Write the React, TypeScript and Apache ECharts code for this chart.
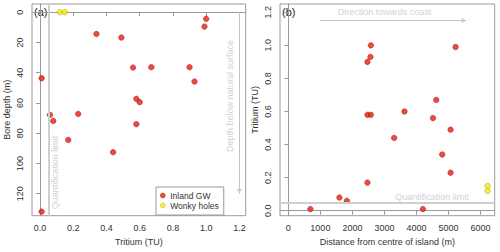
import React, { useEffect, useRef } from "react";
import * as echarts from "echarts";

// Panel (a): tritium vs bore depth
const inlandTritiumA = [1.0, 0.99, 0.34, 0.49, 0.56, 0.67, 0.9, 0.01, 0.93, 0.58, 0.6, 0.06, 0.08, 0.23, 0.58, 0.17, 0.44, 0.01];
const inlandDepthA = [4.4, 9.5, 14.4, 16.8, 36.6, 36.4, 36.4, 43.7, 45.9, 57.3, 59.5, 67.9, 71.9, 67.3, 74.1, 84.5, 92.6, 131.9];
const wonkyTritiumA = [0.12, 0.15];
const wonkyDepthA = [0, 0];

// Panel (b): distance vs tritium
const inlandDistB = [2575, 2562, 2469, 5219, 2469, 2575, 3625, 4616, 4513, 3303, 5063, 4803, 5063, 2469, 1594, 1825, 688, 4200];
const inlandTritiumB = [1.0, 0.93, 0.9, 0.99, 0.58, 0.58, 0.6, 0.67, 0.56, 0.44, 0.49, 0.34, 0.23, 0.17, 0.08, 0.06, 0.01, 0.01];
const wonkyDistB = [6219, 6219];
const wonkyTritiumB = [0.15, 0.12];

const ticksTritiumA = [0, 0.2, 0.4, 0.6, 0.8, 1.0, 1.2];
const ticksDepthA = [0, 20, 40, 60, 80, 100, 120];
const ticksDistB = [0, 1000, 2000, 3000, 4000, 5000, 6000];
const ticksTritiumB = [0, 0.2, 0.4, 0.6, 0.8, 1.0, 1.2];

const quantLimit = 0.05;

const FONT = "'Liberation Sans', Arial, Helvetica, sans-serif";
const BOX = "#9a9a9a";
const TXT = "#333333";
const ANN = "#c4c4c4";
const RED = "#ee1c0c";
const RED_BORDER = "#8a1a10";
const YEL = "#f4ec10";
const YEL_BORDER = "#a09a10";

function zip(a: number[], b: number[]) {
  return a.map((v, i) => [v, b[i]]);
}

function valueAxis(extra: any) {
  return {
    type: "value",
    axisLine: { show: true, lineStyle: { color: BOX, width: 1 } },
    axisTick: { show: true, length: 4, lineStyle: { color: BOX } },
    splitLine: { show: false },
    axisLabel: { color: TXT, fontSize: 9, fontFamily: FONT, margin: 8 },
    nameLocation: "middle",
    nameTextStyle: { color: TXT, fontSize: 9, fontFamily: FONT },
    ...extra,
  };
}

export default function App() {
  const ref = useRef<HTMLDivElement>(null);
  useEffect(() => {
    if (!ref.current) return;
    const chart = echarts.init(ref.current, null, { renderer: "svg" });
    const redStyle = { color: RED, borderColor: RED_BORDER, borderWidth: 0.6 };
    const yelStyle = { color: YEL, borderColor: YEL_BORDER, borderWidth: 0.6 };
    const annLabel = (text: string, rotate: number) => ({
      show: true,
      position: "inside",
      formatter: text,
      rotate,
      color: ANN,
      fontSize: 9,
      fontFamily: FONT,
    });
    chart.setOption({
      animation: false,
      backgroundColor: "#ffffff",
      textStyle: { fontFamily: FONT },
      grid: [
        { left: 32, top: 4, width: 213.7, height: 211.7, show: true, borderColor: BOX, borderWidth: 1, backgroundColor: "transparent" },
        { left: 280, top: 4, width: 214.7, height: 211.7, show: true, borderColor: BOX, borderWidth: 1, backgroundColor: "transparent" },
      ],
      xAxis: [
        valueAxis({
          gridIndex: 0,
          min: -0.048,
          max: 1.238,
          name: "Tritium (TU)",
          nameGap: 22,
          axisTick: { show: true, length: 4, lineStyle: { color: BOX }, customValues: ticksTritiumA },
          axisLabel: { color: TXT, fontSize: 9, fontFamily: FONT, margin: 8, customValues: ticksTritiumA, formatter: (v: number) => v.toFixed(1) },
        }),
        valueAxis({
          gridIndex: 1,
          min: -260,
          max: 6440,
          name: "Distance from centre of island (m)",
          nameGap: 22,
          axisTick: { show: true, length: 4, lineStyle: { color: BOX }, customValues: ticksDistB },
          axisLabel: { color: TXT, fontSize: 9, fontFamily: FONT, margin: 8, customValues: ticksDistB, formatter: (v: number) => String(v) },
        }),
      ],
      yAxis: [
        valueAxis({
          gridIndex: 0,
          inverse: true,
          min: -5.4,
          max: 134.6,
          name: "Bore depth (m)",
          nameGap: 21,
          axisTick: { show: true, length: 4, lineStyle: { color: BOX }, customValues: ticksDepthA },
          axisLabel: { color: TXT, fontSize: 9, fontFamily: FONT, margin: 8, rotate: 90, customValues: ticksDepthA, formatter: (v: number) => String(v) },
        }),
        valueAxis({
          gridIndex: 1,
          min: -0.03,
          max: 1.25,
          name: "Tritium (TU)",
          nameGap: 21,
          axisTick: { show: true, length: 4, lineStyle: { color: BOX }, customValues: ticksTritiumB },
          axisLabel: { color: TXT, fontSize: 9, fontFamily: FONT, margin: 8, rotate: 90, customValues: ticksTritiumB, formatter: (v: number) => v.toFixed(1) },
        }),
      ],
      legend: {
        data: ["Inland GW", "Wonky holes"],
        orient: "vertical",
        left: 156,
        top: 187,
        icon: "circle",
        itemWidth: 5,
        itemHeight: 5,
        itemGap: 1,
        itemStyle: { borderWidth: 0.5 },
        padding: [4, 5, 5, 4],
        backgroundColor: "#ffffff",
        borderColor: BOX,
        borderWidth: 1,
        borderRadius: 0,
        textStyle: { color: TXT, fontSize: 8.5, fontFamily: FONT, lineHeight: 9 },
      },
      graphic: [
        { type: "text", left: 34, top: 6, style: { text: "(a)", fill: "#222", fontSize: 11, fontFamily: FONT } },
        { type: "text", left: 282, top: 6, style: { text: "(b)", fill: "#222", fontSize: 11, fontFamily: FONT } },
      ],
      series: [
        {
          name: "Annotations (a)",
          type: "scatter",
          xAxisIndex: 0,
          yAxisIndex: 0,
          symbolSize: 0,
          silent: true,
          z: 1,
          data: [
            { value: [0.088, 106], label: annLabel("Quantification limit", 90) },
            { value: [1.146, 55.4], label: annLabel("Depth below natural surface", 90) },
          ],
          markLine: {
            silent: true,
            animation: false,
            label: { show: false },
            data: [
              [
                { coord: [quantLimit, -5.4], symbol: "none", lineStyle: { color: "#cfcfcf", width: 2, type: "solid" } },
                { coord: [quantLimit, 134.6], symbol: "none" },
              ],
              [
                { coord: [1.2, 0], symbol: "none", lineStyle: { color: "#c4c4c4", width: 1, type: "solid" } },
                { coord: [1.2, 120], symbol: "arrow", symbolSize: [4, 5] },
              ],
            ],
          },
        },
        {
          name: "Annotations (b)",
          type: "scatter",
          xAxisIndex: 1,
          yAxisIndex: 1,
          symbolSize: 0,
          silent: true,
          z: 1,
          data: [
            { value: [4481, 0.083], label: annLabel("Quantification limit", 0) },
            { value: [3000, 1.2], label: annLabel("Direction towards coast", 0) },
          ],
          markLine: {
            silent: true,
            animation: false,
            label: { show: false },
            data: [
              [
                { coord: [-260, quantLimit], symbol: "none", lineStyle: { color: "#cfcfcf", width: 2, type: "solid" } },
                { coord: [6440, quantLimit], symbol: "none" },
              ],
              [
                { coord: [1000, 1.15], symbol: "none", lineStyle: { color: "#c4c4c4", width: 1, type: "solid" } },
                { coord: [5550, 1.15], symbol: "arrow", symbolSize: [4, 5] },
              ],
            ],
          },
        },
        {
          name: "Inland GW",
          type: "scatter",
          xAxisIndex: 0,
          yAxisIndex: 0,
          symbolSize: 5.5,
          itemStyle: redStyle,
          z: 3,
          data: zip(inlandTritiumA, inlandDepthA),
        },
        {
          name: "Wonky holes",
          type: "scatter",
          xAxisIndex: 0,
          yAxisIndex: 0,
          symbolSize: 5.5,
          itemStyle: yelStyle,
          z: 3,
          data: zip(wonkyTritiumA, wonkyDepthA),
        },
        {
          name: "Inland GW",
          type: "scatter",
          xAxisIndex: 1,
          yAxisIndex: 1,
          symbolSize: 5.5,
          itemStyle: redStyle,
          z: 3,
          data: zip(inlandDistB, inlandTritiumB),
        },
        {
          name: "Wonky holes",
          type: "scatter",
          xAxisIndex: 1,
          yAxisIndex: 1,
          symbolSize: 5.5,
          itemStyle: yelStyle,
          z: 3,
          data: zip(wonkyDistB, wonkyTritiumB),
        },
      ],
    });
    return () => chart.dispose();
  }, []);
  return <div ref={ref} style={{ position: "fixed", left: 0, top: 0, width: 500, height: 252 }} />;
}
